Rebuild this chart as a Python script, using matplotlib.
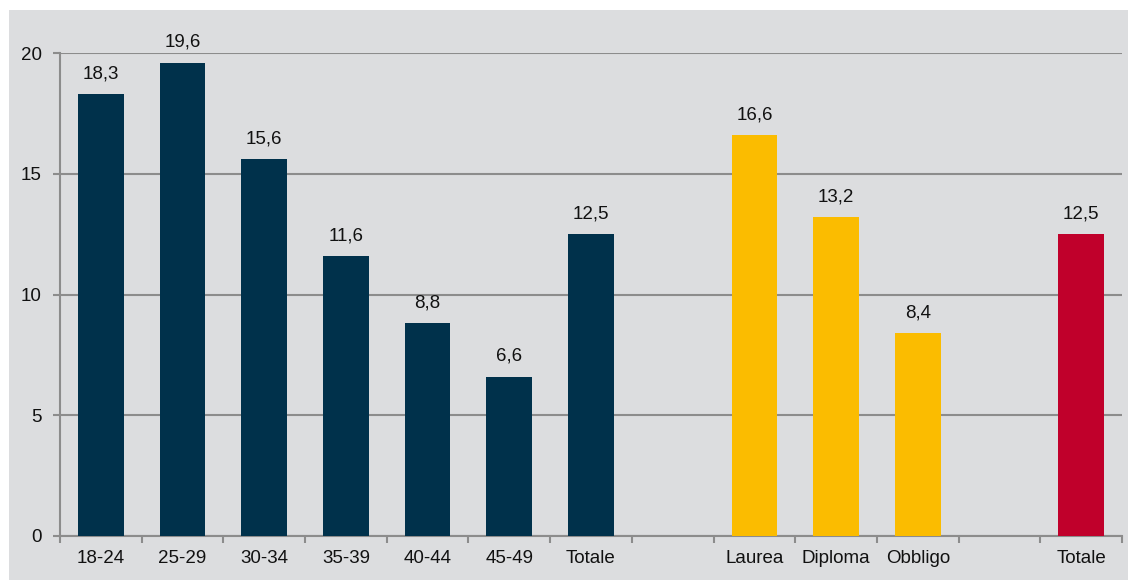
#!/usr/bin/env python3
"""Bar chart: values by age group and by education level."""

import matplotlib.pyplot as plt
from matplotlib.patches import Rectangle

plt.rcParams['font.family'] = ['Liberation Sans', 'DejaVu Sans']

categories = ['18-24', '25-29', '30-34', '35-39', '40-44', '45-49', 'Totale',
              '', 'Laurea', 'Diploma', 'Obbligo', '', 'Totale']
values = [18.3, 19.6, 15.6, 11.6, 8.8, 6.6, 12.5,
          None, 16.6, 13.2, 8.4, None, 12.5]
groups = ['age'] * 7 + [None] + ['edu'] * 3 + [None] + ['tot']
y_ticks = [0, 5, 10, 15, 20]

colors = {'age': '#00314b', 'edu': '#fbbc00', 'tot': '#c0002b'}
bg = '#dcdddf'
axis_grey = '#8c8c8c'

fig = plt.figure(figsize=(11.28, 5.8), dpi=100)
fig.patch.set_facecolor('white')
fig.patches.append(Rectangle((9 / 1128, 0), 1, (580 - 10) / 580,
                             transform=fig.transFigure, facecolor=bg,
                             edgecolor='none', zorder=-10))

ax = fig.add_axes([60 / 1128, 44 / 580, 1062 / 1128, 483 / 580])
ax.set_facecolor(bg)

for i, (v, g) in enumerate(zip(values, groups)):
    if v is None:
        continue
    ax.bar(i, v, width=0.56, color=colors[g], zorder=3)
    ax.annotate(f'{v:.1f}'.replace('.', ','), (i, v), xytext=(0, 8.5),
                textcoords='offset points', ha='center', va='bottom',
                fontsize=13.5, color='#111111')

ax.set_xlim(-0.5, len(categories) - 0.5)
ax.set_ylim(0, 20)
ax.set_yticks(y_ticks)
ax.set_yticklabels([str(t) for t in y_ticks], fontsize=13.5, color='#111111')
ax.set_xticks(range(len(categories)))
ax.set_xticklabels(categories, fontsize=13.5, color='#111111')
ax.tick_params(axis='x', length=0, pad=10)
ax.tick_params(axis='y', length=5, width=1.5, color=axis_grey, pad=8)

# tick marks between category slots
ax.set_xticks([i - 0.5 for i in range(len(categories) + 1)], minor=True)
ax.tick_params(axis='x', which='minor', length=5, width=1.5, color=axis_grey)

ax.yaxis.grid(True, color=axis_grey, linewidth=1.5, zorder=1)
ax.set_axisbelow(True)
for side in ['top', 'right']:
    ax.spines[side].set_visible(False)
for side in ['left', 'bottom']:
    ax.spines[side].set_color(axis_grey)
    ax.spines[side].set_linewidth(1.5)

fig.savefig('out.png', dpi=100)
